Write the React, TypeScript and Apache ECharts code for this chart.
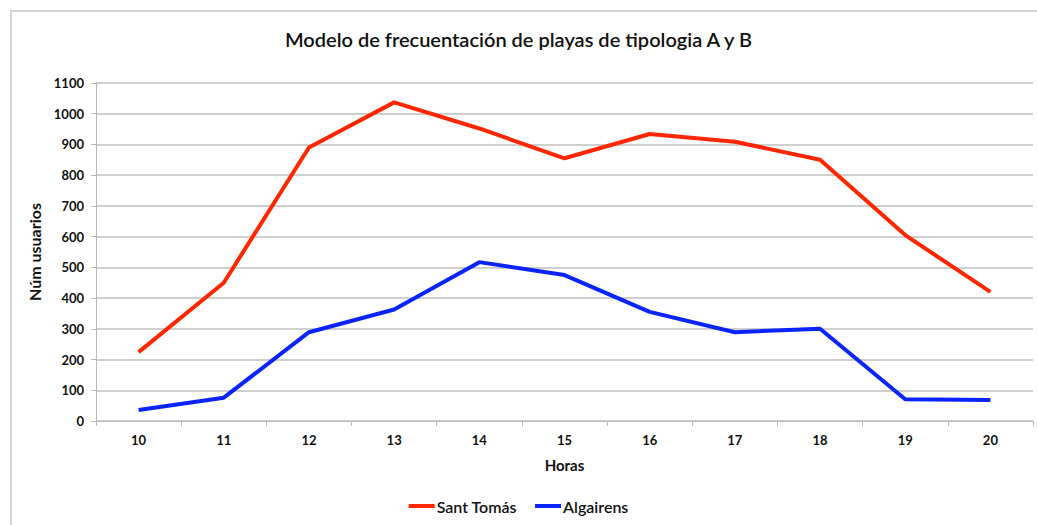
import React, { useEffect, useRef } from "react";
import * as echarts from "echarts";

const hours = ["10", "11", "12", "13", "14", "15", "16", "17", "18", "19", "20"];
const santTomas = [224, 450, 890, 1037, 952, 855, 934, 909, 850, 605, 420];
const algairens = [36, 76, 289, 363, 517, 475, 355, 289, 300, 71, 68];
const yTicks = { min: 0, max: 1100, interval: 100 };

const FONT = "Lato";

export default function App() {
  const ref = useRef<HTMLDivElement>(null);
  useEffect(() => {
    if (!ref.current) return;
    const chart = echarts.init(ref.current, undefined, { renderer: "svg" });
    chart.setOption({
      animation: false,
      backgroundColor: "#ffffff",
      textStyle: { fontFamily: FONT },
      title: {
        text: "Modelo de frecuentación de playas de tipologia A y B",
        left: "center",
        top: 24,
        textStyle: { fontFamily: FONT, fontSize: 20, fontWeight: 600, color: "#111" },
      },
      graphic: [
        {
          type: "polyline",
          shape: { points: [[11, 525], [11, 11], [1037, 11]] },
          style: { stroke: "#d4d4d4", lineWidth: 2, fill: "none" },
          silent: true,
        },
      ],
      legend: {
        bottom: 6,
        left: "center",
        itemWidth: 26,
        itemHeight: 4,
        itemGap: 18,
        icon: "rect",
        textStyle: { fontFamily: FONT, fontSize: 16, fontWeight: 600, color: "#111", padding: [0, 0, 0, -3] },
        data: ["Sant Tomás", "Algairens"],
      },
      grid: { left: 96, right: 4, top: 83, bottom: 104, containLabel: false },
      xAxis: {
        type: "category",
        data: hours,
        boundaryGap: true,
        name: "Horas",
        nameLocation: "middle",
        nameGap: 36,
        nameTextStyle: { fontFamily: FONT, fontSize: 15, fontWeight: "bold", color: "#111" },
        axisLine: { lineStyle: { color: "#b8b8b8", width: 1 } },
        axisTick: { show: true, length: 5, lineStyle: { color: "#b8b8b8" } },
        axisLabel: { fontFamily: FONT, fontSize: 13, fontWeight: "bold", color: "#111", margin: 12 },
        splitLine: { show: false },
      },
      yAxis: {
        type: "value",
        min: yTicks.min,
        max: yTicks.max,
        interval: yTicks.interval,
        name: "Núm usuarios",
        nameLocation: "middle",
        nameGap: 49,
        nameRotate: 90,
        nameTextStyle: { fontFamily: FONT, fontSize: 16, fontWeight: "bold", color: "#111" },
        axisLine: { show: true, lineStyle: { color: "#b8b8b8", width: 1 } },
        axisTick: { show: true, length: 5, inside: false, lineStyle: { color: "#b8b8b8" } },
        axisLabel: {
          fontFamily: FONT,
          fontSize: 13,
          fontWeight: "bold",
          color: "#111",
          margin: 12,
          formatter: (v: number) => String(v),
        },
        splitLine: { show: true, lineStyle: { color: "#cfcfcf", width: 2 } },
      },
      series: [
        {
          name: "Sant Tomás",
          type: "line",
          data: santTomas,
          symbol: "none",
          lineStyle: { color: "#ff2600", width: 4 },
          itemStyle: { color: "#ff2600" },
        },
        {
          name: "Algairens",
          type: "line",
          data: algairens,
          symbol: "none",
          lineStyle: { color: "#0a24ff", width: 4 },
          itemStyle: { color: "#0a24ff" },
        },
      ],
    });
    return () => chart.dispose();
  }, []);
  return (
    <div
      ref={ref}
      style={{ position: "fixed", left: 0, top: 0, width: 1037, height: 525 }}
    />
  );
}
